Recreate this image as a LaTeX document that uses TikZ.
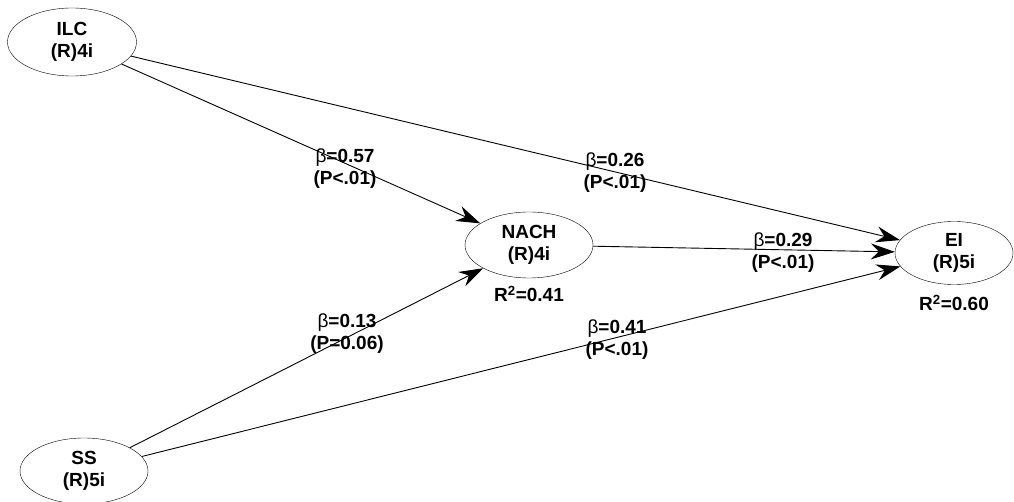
\documentclass[tikz,border=0pt]{standalone}
\usepackage{fontspec}
\setmainfont{Liberation Sans}
\usepackage{tikz}
\usetikzlibrary{arrows.meta, shapes.geometric, positioning}
\tikzset{
latent/.style={draw, ellipse, thin, inner sep=0pt, align=center, font=\fontsize{19}{22}\selectfont\bfseries},
coef/.style={align=center, inner sep=0pt, font=\fontsize{19}{22}\selectfont\bfseries},
rsq/.style={inner sep=0pt, font=\fontsize{19}{20}\selectfont\bfseries},
path/.style={-{Stealth[length=24pt, width=16pt, inset=8pt]}, line width=0.9pt}
}
\newcommand{\bt}{\textmd{β}}

\begin{document}
\begin{tikzpicture}[x=1pt, y=-1pt]
	\useasboundingbox[fill=white] (0,0) rectangle (1014,502);
	\node[latent, minimum width=129pt, minimum height=68pt] (ILC) at (72,42) {ILC\\(R)4i};
	\node[latent, minimum width=128pt, minimum height=66pt] (NACH) at (529,245) {NACH\\(R)4i};
	\node[latent, minimum width=118pt, minimum height=63pt] (EI) at (954,253) {EI\\(R)5i};
	\node[latent, minimum width=128pt, minimum height=66pt] (SS) at (84,471) {SS\\(R)5i};
	\node[rsq, below = 8pt of NACH] (r2nach) {R\textsuperscript{2}=0.41};
	\node[rsq, below = 10pt of EI] (r2ei) {R\textsuperscript{2}=0.60};
	% ----
	\draw[path] (ILC) -- (NACH);
	\draw[path] (ILC) -- (EI);
	\draw[path] (NACH) -- (EI);
	\draw[path] (SS) -- (NACH);
	\draw[path] (SS) -- (EI);
	% ----
	\node[coef] (c57) at (345,169) {\bt=0.57\\(P<.01)};
	\node[coef] (c26) at (615,173) {\bt=0.26\\(P<.01)};
	\node[coef] (c29) at (783,253) {\bt=0.29\\(P<.01)};
	\node[coef] (c13) at (347,334) {\bt=0.13\\(P=0.06)};
	\node[coef] (c41) at (617,340) {\bt=0.41\\(P<.01)};
\end{tikzpicture}
\end{document}
